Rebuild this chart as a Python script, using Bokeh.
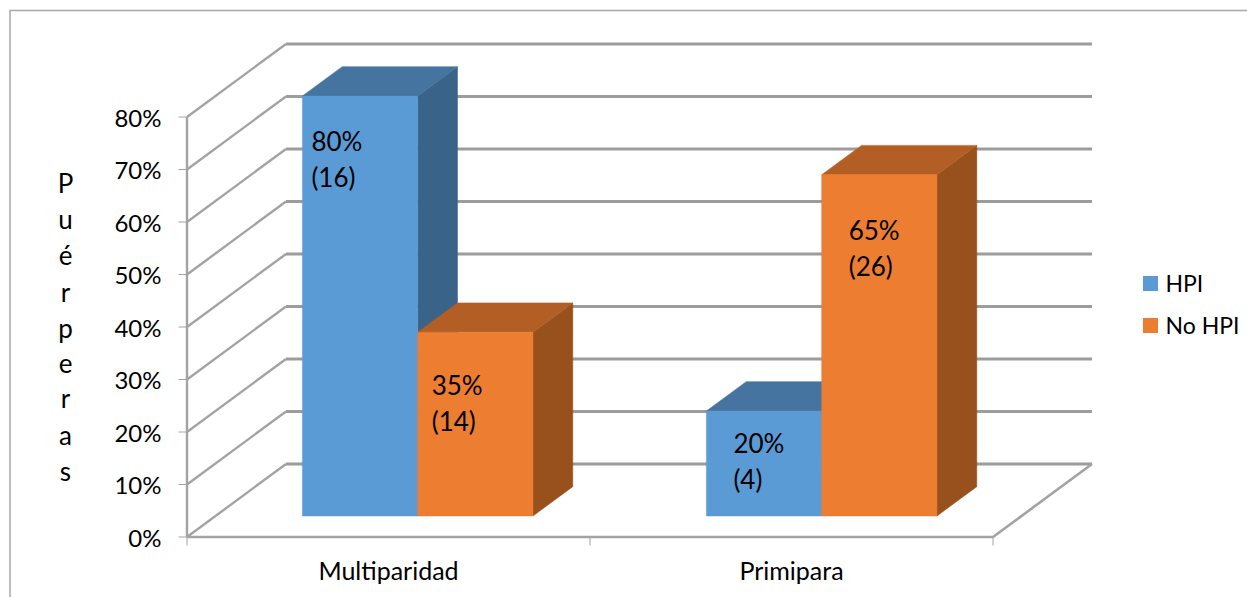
from bokeh.plotting import figure
from bokeh.models import Range1d
from bokeh.core.properties import value
from bokeh.embed import file_html
from bokeh.resources import INLINE

# ---- data ----
categories = ["Multiparidad", "Primipara"]
series_names = ["HPI", "No HPI"]
hpi_pct = [80, 20]
no_hpi_pct = [35, 65]
hpi_n = [16, 4]
no_hpi_n = [14, 26]
tick_values = [0, 10, 20, 30, 40, 50, 60, 70, 80]
y_title = "Puérperas"

# ---- layout (pixel calibration of the 3D box) ----
W, H = 1247, 597
PX0, PY0 = 186.5, 536.5    # front-left corner of floor
SLOT = 403                 # px per category
PCT = 5.25                 # px per percent
DX, DY = 99, 73            # depth offset in px
FONT = value("Lato")
GRID = "#a3a3a3"
GRID_BACK = "#9c9c9c"
COL = {"HPI": ("#5b9bd5", "#44749f", "#3a6389"),
       "No HPI": ("#ed7d31", "#b25e24", "#98501d")}

def X(px): return (px - PX0) / SLOT
def Y(py): return (PY0 - py) / PCT
def proj(c, v, d):
    """category units, percent, depth 0..1 -> chart coordinates"""
    return c + d * DX / SLOT, v + d * DY / PCT

p = figure(width=W, height=H, output_backend="svg", toolbar_location=None,
           x_range=Range1d(X(0), X(W)), y_range=Range1d(Y(H), Y(0)),
           min_border=0, outline_line_color=None, background_fill_color="white")
p.axis.visible = False
p.grid.visible = False

# frame of the picture
p.line([X(9.5), X(9.5), X(1247)], [Y(597), Y(10), Y(10)], line_color="#a9a9a9", line_width=1.5)

# walls and floor
for t in tick_values:
    xs, ys = zip(*[proj(0, t, 0), proj(0, t, 1)])
    p.line(list(xs), list(ys), line_color=GRID, line_width=2.4)
    xs, ys = zip(*[proj(0, t, 1), proj(2, t, 1)])
    p.line(list(xs), list(ys), line_color=GRID_BACK, line_width=3)
    p.line([X(178), 0], [t, t], line_color=GRID, line_width=1.2)
p.line([0, 0], [0, tick_values[-1]], line_color=GRID, line_width=2.4)
xs, ys = zip(*[proj(0, 0, 0), proj(2, 0, 0), proj(2, 0, 1)])
p.line(list(xs), list(ys), line_color=GRID, line_width=2.6)
for c in range(len(categories) + 1):
    p.line([c, c], [0, Y(545)], line_color=GRID, line_width=1)

# 3D bars
BAR_W = 115.3 / SLOT
D0, D1 = 0.288, 0.69
LEFT = 0.2156
CAT_STEP = 404 / SLOT

def bar(c0, v, name):
    front, top, side = COL[name]
    c1 = c0 + BAR_W
    def poly(pts, color):
        xs, ys = zip(*[proj(*q) for q in pts])
        p.patch(list(xs), list(ys), fill_color=color, line_color=color, line_width=0.5)
    poly([(c1, 0, D0), (c1, 0, D1), (c1, v, D1), (c1, v, D0)], side)
    poly([(c0, v, D0), (c1, v, D0), (c1, v, D1), (c0, v, D1)], top)
    poly([(c0, 0, D0), (c1, 0, D0), (c1, v, D0), (c0, v, D0)], front)

label_dx = [[9, 14], [27, 27]]
label_dy = [[45, 53], [32, 55]]
texts_x, texts_y, texts = [], [], []
for i in range(len(categories)):
    for s, (name, vals, ns) in enumerate(zip(series_names, [hpi_pct, no_hpi_pct], [hpi_n, no_hpi_n])):
        c0 = i * CAT_STEP + LEFT + s * BAR_W
        bar(c0, vals[i], name)
        bx, by = proj(c0, vals[i], D0)
        lx = bx + label_dx[i][s] / SLOT
        ly = by - label_dy[i][s] / PCT
        texts_x += [lx, lx]
        texts_y += [ly, ly - 36 / PCT]
        texts += [f"{vals[i]}%", f"({ns[i]})"]

p.text(texts_x, texts_y, text=texts, text_font=FONT, text_font_size="26px",
       text_color="black", text_align="left", text_baseline="middle")

# tick labels
p.text([X(161)] * len(tick_values), tick_values, text=[f"{t}%" for t in tick_values],
       text_font=FONT, text_font_size="24px", text_color="black", text_align="right", text_baseline="middle")

# category labels
p.text([0.5, 1.5], [Y(569.5)] * 2, text=categories, text_font=FONT, text_font_size="25px",
       text_color="black", text_align="center", text_baseline="middle")

# vertical axis title, one letter per line
title_y = [182, 218, 254, 291, 327, 362, 397, 434, 470]
p.text([X(65)] * len(y_title), [Y(v) for v in title_y], text=list(y_title), text_font=FONT,
       text_font_size="26px", text_color="black", text_align="center", text_baseline="middle")

# legend
for name, ty in zip(series_names, [283, 325]):
    p.quad(left=[X(1142.5)], right=[X(1157.5)], top=[Y(ty - 7.5)], bottom=[Y(ty + 7.5)],
           fill_color=COL[name][0], line_color=None)
    p.text([X(1165)], [Y(ty - 0.5)], text=[name], text_font=FONT, text_font_size="23px",
           text_color="black", text_align="left", text_baseline="middle")

open("out.html", "w").write(file_html(p, INLINE))
